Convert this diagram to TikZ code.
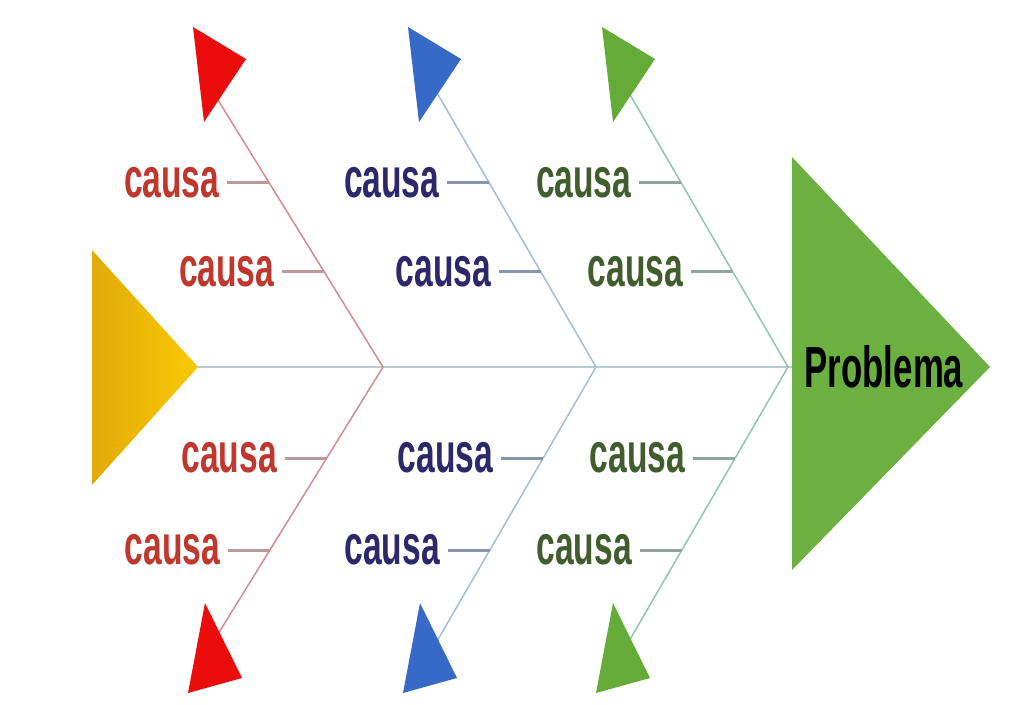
\documentclass[tikz,border=0pt]{standalone}
\usepackage{fontspec}
\usepackage{tikz}
\newfontfamily\causafont[FakeStretch=0.6]{Liberation Sans}
\definecolor{txtrojo}{RGB}{192,55,45}
\definecolor{txtazul}{RGB}{45,40,105}
\definecolor{txtverde}{RGB}{65,92,45}
\definecolor{hrojo}{RGB}{212,140,140}
\definecolor{hazul}{RGB}{165,190,215}
\definecolor{hverde}{RGB}{140,200,175}
\definecolor{frojo}{RGB}{235,12,12}
\definecolor{fazul}{RGB}{55,105,200}
\definecolor{fverde}{RGB}{100,172,55}
\definecolor{amarillo}{RGB}{250,200,5}
\definecolor{amarilloosc}{RGB}{225,170,10}
\definecolor{espinagris}{RGB}{185,205,215}

\begin{document}
\begin{tikzpicture}[x=0.5pt,y=-0.5pt,
  causa/.style={font=\causafont\bfseries\fontsize{28}{28}\selectfont,
    inner xsep=0pt,inner ysep=2pt,outer xsep=4pt,anchor=east},
  espina/.style={line width=1.4pt,espinagris},
  hueso/.style={line width=0.75pt},
  raya/.style={line width=1.5pt}]
\useasboundingbox (0,0) rectangle (1010,705);

  \coordinate (cola) at (198,367);
  \coordinate (cabeza) at (792,367);
  \draw[espina] (cola) -- (cabeza);

  \foreach \J/\s/\tc/\hc/\fc/\tx/\ux/\nm in {383/0.618/txtrojo/hrojo/frojo/193/205/r,
      596/0.58/txtazul/hazul/fazul/408/420/b,
      788/0.58/txtverde/hverde/fverde/602/613/g}{
   \pgfmathsetmacro{\xa}{\J-277*\s}
   \coordinate (\nm-j) at (\J,367);
   \coordinate (\nm-top) at (\xa,90);
   \coordinate (\nm-bot) at (\xa,644);
   \draw[hueso,\hc] (\nm-top) -- (\nm-j) -- (\nm-bot);
   \foreach \y/\k in {183/1,272/2,458/3,550/4}{
    \pgfmathsetmacro{\xp}{\J-abs(367-\y)*\s}
    \coordinate (\nm-p\k) at (\xp,\y);
    \node[causa,text=\tc] (\nm-c\k) at (\xp-42,\y) {causa};
    \draw[raya,\tc!35!espinagris] (\nm-c\k) -- (\nm-p\k);
   }
   \fill[\fc] (\tx,27) -- ++(53,32) -- ++(-42,63) -- cycle;
   \fill[\fc] (\ux,603) -- ++(37,75) -- ++(-54,15) -- cycle;
  }

  \shade[left color=amarilloosc,right color=amarillo] (92,250) -- (cola) -- (92,485) -- cycle;
  \fill[fverde!95!white] (cabeza) -- (792,157) -- (990,367) -- (792,570) -- cycle;
  \node[font=\causafont\bfseries\fontsize{29}{29}\selectfont,text=black] (problema) at (884,367) {Problema};
\end{tikzpicture}
\end{document}
